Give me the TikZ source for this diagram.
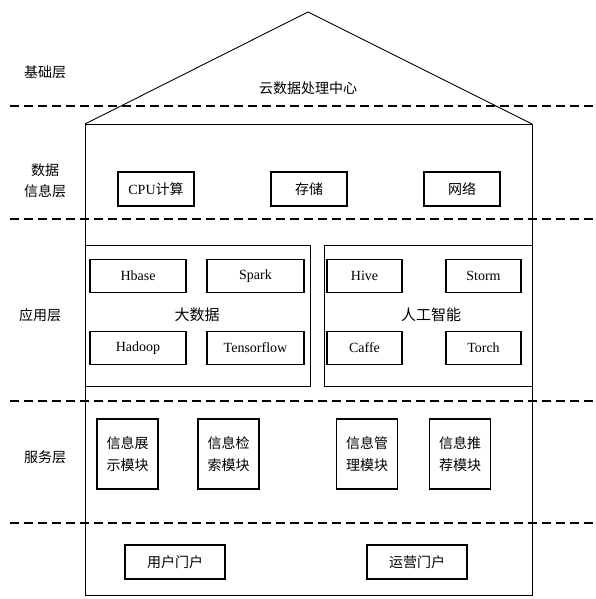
\documentclass[tikz,border=0pt]{standalone}
\usepackage{fontspec}
\setmainfont{Liberation Serif}
\newfontfamily\cjk{Noto Sans CJK SC}
\usepackage{tikz}
\usetikzlibrary{positioning}
\tikzset{
	modbox/.style={draw, line width=1.1pt, inner sep=0pt, align=center, font=\fontsize{14}{16}\selectfont},
	sidelabel/.style={align=center, font=\cjk\fontsize{14}{21}\selectfont},
	layerline/.style={line width=1.2pt, dash pattern=on 9pt off 5pt}
}

\begin{document}
\begin{tikzpicture}[x=1pt,y=-1pt]
			\useasboundingbox (0,0) rectangle (596,599);
			% layer separators
			\foreach \ly in {106,219,401,523}
				\draw [layerline] (10,\ly) -- (596,\ly);
			% house
			\draw [line width=0.9pt] (85,124) -- (308,12) -- (532,124);
			\draw [line width=0.9pt] (85,124) rectangle (532,595);
			\draw [line width=0.9pt] (85,245) rectangle (310,386);
			\draw [line width=0.9pt] (324,245) rectangle (532,386);
			% layer names
			\node [sidelabel] (base) at (45,72) {基础层};
			\node [sidelabel] (data) at (45,181) {数据\\信息层};
			\node [sidelabel] (app) at (40,315) {应用层};
			\node [sidelabel] (serv) at (45,457) {服务层};
			\node [font=\cjk\fontsize{14}{16}\selectfont] (cloud) at (308,88) {云数据处理中心};
			% data layer
			\node [modbox, minimum width=76pt, minimum height=34pt] (cpu) at (156,189) {CPU{\cjk 计算}};
			\node [modbox, minimum width=76pt, minimum height=34pt, font=\cjk\fontsize{14}{16}\selectfont] (store) at (309,189) {存储};
			\node [modbox, minimum width=76pt, minimum height=34pt, font=\cjk\fontsize{14}{16}\selectfont] (net) at (462,189) {网络};
			% application layer
			\node [modbox, minimum width=96pt, minimum height=33pt] (hbase) at (138,276) {Hbase};
			\node [modbox, minimum width=97pt, minimum height=33pt] (spark) at (255.5,276) {Spark};
			\node [modbox, minimum width=96pt, minimum height=33pt] (hadoop) at (138,348) {Hadoop};
			\node [modbox, minimum width=97pt, minimum height=33pt] (tensor) at (255.5,348) {Tensorflow};
			\node [modbox, minimum width=75pt, minimum height=33pt] (hive) at (364.5,276) {Hive};
			\node [modbox, minimum width=75pt, minimum height=33pt] (storm) at (483.5,276) {Storm};
			\node [modbox, minimum width=75pt, minimum height=33pt] (caffe) at (364.5,348) {Caffe};
			\node [modbox, minimum width=75pt, minimum height=33pt] (torch) at (483.5,348) {Torch};
			\node [font=\cjk\fontsize{15}{16}\selectfont] (bigdata) at (197,315) {大数据};
			\node [font=\cjk\fontsize{15}{16}\selectfont] (ai) at (431,315) {人工智能};
			% service layer
			\node [modbox, minimum width=61pt, minimum height=70pt, font=\cjk\fontsize{14}{22}\selectfont] (show) at (127.5,454) {信息展\\示模块};
			\node [modbox, minimum width=61pt, minimum height=70pt, font=\cjk\fontsize{14}{22}\selectfont] (search) at (228.5,454) {信息检\\索模块};
			\node [modbox, minimum width=61pt, minimum height=70pt, font=\cjk\fontsize{14}{22}\selectfont] (manage) at (367,454) {信息管\\理模块};
			\node [modbox, minimum width=61pt, minimum height=70pt, font=\cjk\fontsize{14}{22}\selectfont] (recom) at (460,454) {信息推\\荐模块};
			% portals
			\node [modbox, minimum width=100pt, minimum height=34pt, font=\cjk\fontsize{14}{16}\selectfont] (user) at (175,562) {用户门户};
			\node [modbox, minimum width=100pt, minimum height=34pt, font=\cjk\fontsize{14}{16}\selectfont] (ops) at (417,562) {运营门户};
		\end{tikzpicture}
\end{document}
